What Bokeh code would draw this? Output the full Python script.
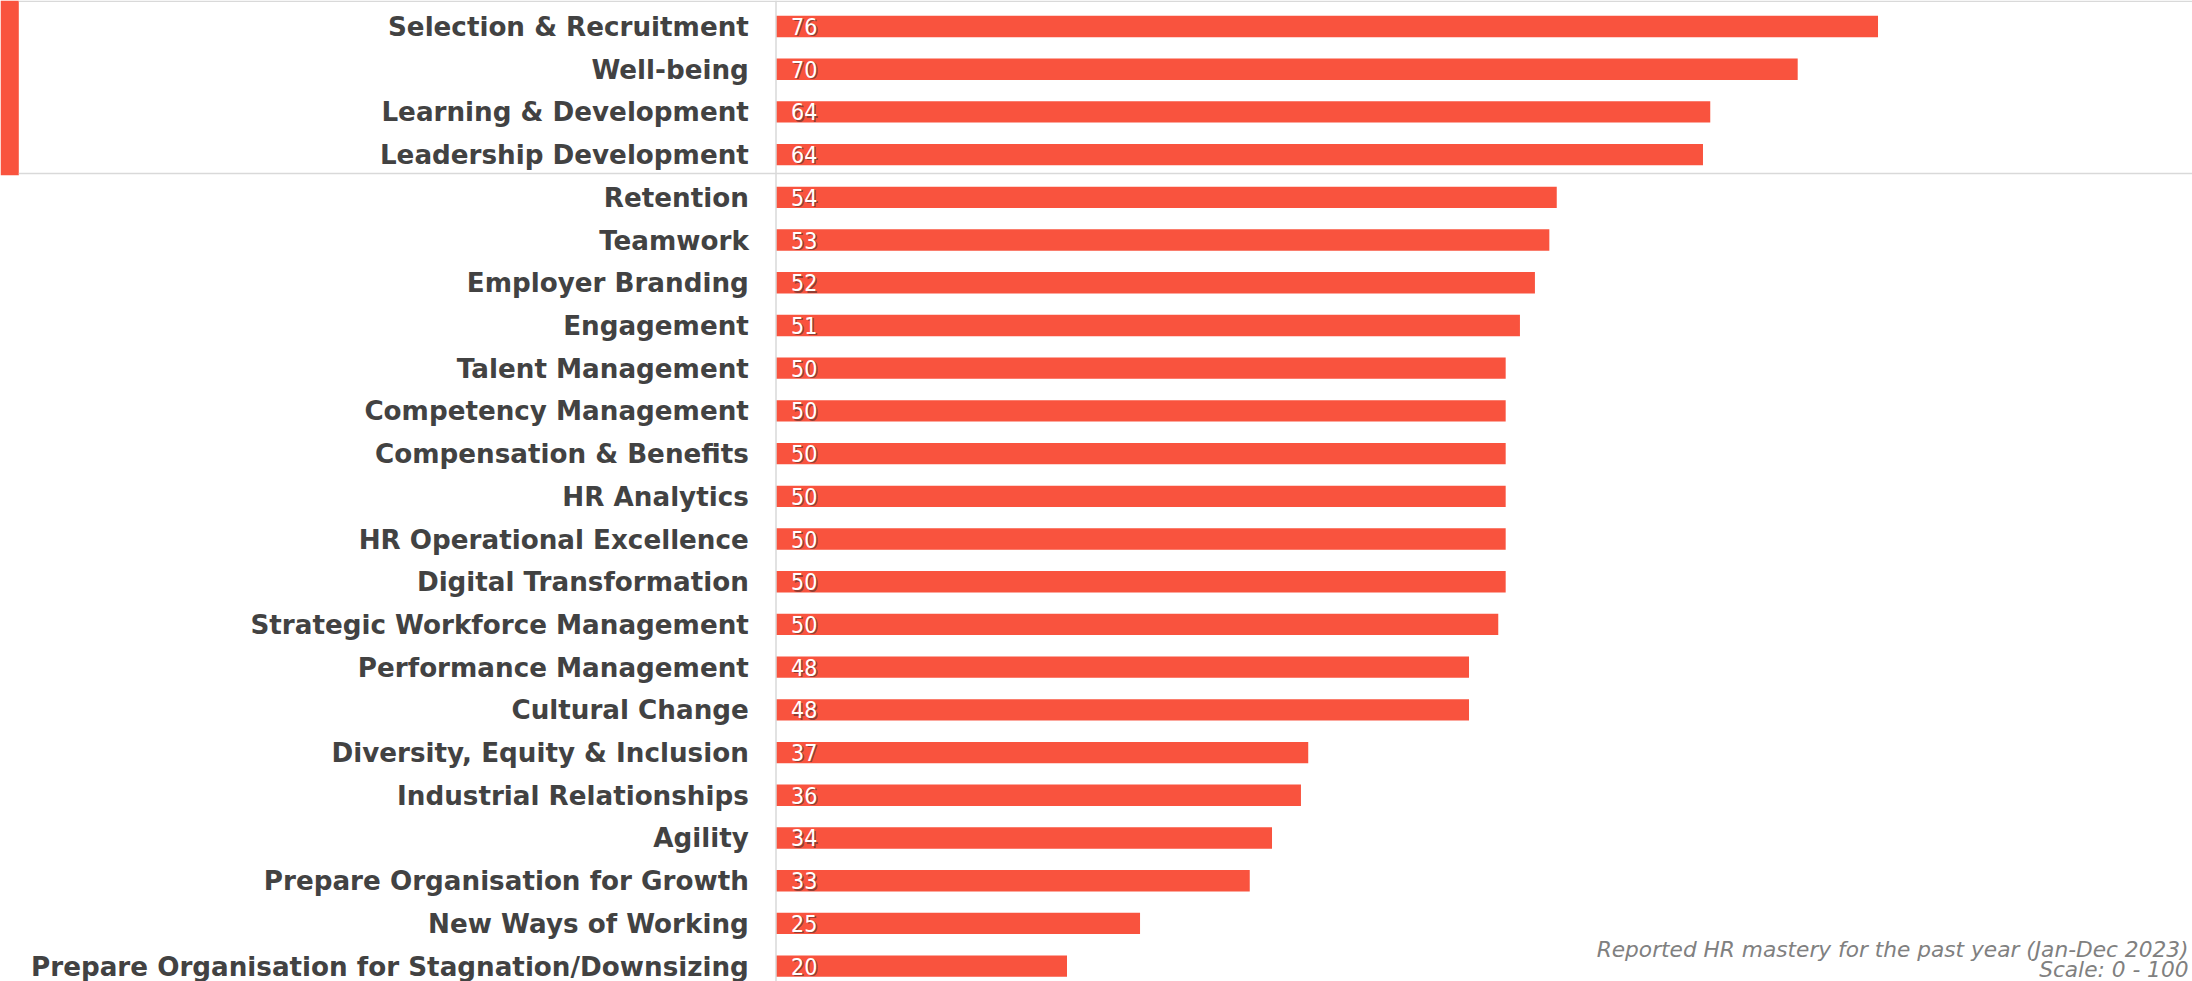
from bokeh.plotting import figure
from bokeh.models import Range1d, BoxAnnotation, Label, ColumnDataSource, Span
from bokeh.core.properties import value
from bokeh.embed import file_html
from bokeh.resources import INLINE

categories = [
    "Selection & Recruitment", "Well-being", "Learning & Development",
    "Leadership Development", "Retention", "Teamwork", "Employer Branding",
    "Engagement", "Talent Management", "Competency Management",
    "Compensation & Benefits", "HR Analytics", "HR Operational Excellence",
    "Digital Transformation", "Strategic Workforce Management",
    "Performance Management", "Cultural Change", "Diversity, Equity & Inclusion",
    "Industrial Relationships", "Agility", "Prepare Organisation for Growth",
    "New Ways of Working", "Prepare Organisation for Stagnation/Downsizing",
]
scores = [75.74, 70.22, 64.21, 63.71, 53.66, 53.15, 52.16, 51.13, 50.15, 50.15,
          50.15, 50.15, 50.15, 50.15, 49.64, 47.63, 47.63, 36.58, 36.08, 34.09,
          32.56, 25.02, 20.0]
score_labels = ["76", "70", "64", "64", "54", "53", "52", "51", "50", "50", "50",
                "50", "50", "50", "50", "48", "48", "37", "36", "34", "33", "25", "20"]
note_lines = ["Reported HR mastery for the past year (Jan-Dec 2023)", "Scale: 0 - 100"]

W, H = 2192, 981
BAR = "#F9533E"
GRID = "#d9d9d9"

# layout (pixels of the figure)
AXIS_X = 775.5       # where value 0 sits
PX_PER_UNIT = 14.55
ROW0 = 26.0          # centre of first row
ROW_STEP = 42.71     # distance between rows

rank = list(range(len(categories)))
src = ColumnDataSource(dict(cat=categories, rank=rank, score=scores, lab=score_labels))

p = figure(
    width=W, height=H, output_backend="svg", toolbar_location=None,
    x_range=Range1d(-AXIS_X / PX_PER_UNIT, (W - AXIS_X) / PX_PER_UNIT),
    y_range=Range1d((H - ROW0) / ROW_STEP, -ROW0 / ROW_STEP),
    min_border_left=0, min_border_right=0, min_border_top=0, min_border_bottom=0,
    x_axis_location=None, y_axis_location=None,
)
p.outline_line_color = None
p.grid.visible = False
p.background_fill_color = "white"

p.hbar(y="rank", left=0, right="score", height=0.5, source=src,
       fill_color=BAR, line_color=None)

# category labels (left of the axis line)
p.text(x=0, y="rank", text="cat", source=src, x_offset=-27.2, y_offset=0.5,
       text_align="right", text_baseline="middle",
       text_font=value("DejaVu Sans"), text_font_style="bold",
       text_font_size="26.2px", text_color="#424242")

# value labels with a soft shadow
p.text(x=0, y="rank", text="lab", source=src, x_offset=16.5, y_offset=1.3,
       text_font=value("DejaVu Sans Condensed"), text_font_size="23px",
       text_color="#3a2a28", text_alpha=0.55, text_baseline="middle")
p.text(x=0, y="rank", text="lab", source=src, x_offset=15, y_offset=0,
       text_font=value("DejaVu Sans Condensed"), text_font_size="23px",
       text_color="white", text_baseline="middle")

# vertical axis line
p.add_layout(Span(location=0, dimension="height", line_color=GRID, line_width=1.5))

# highlight box around the top four
def canvas_box(l, r, t, b, color):
    return BoxAnnotation(left=l, right=r, top=t, bottom=b,
                         left_units="canvas", right_units="canvas",
                         top_units="canvas", bottom_units="canvas",
                         fill_color=color, fill_alpha=1, line_color=None)

p.add_layout(canvas_box(0, 18.3, 0, 174.7, BAR))
p.add_layout(canvas_box(18.3, W, 0, 1.6, GRID))
p.add_layout(canvas_box(18.3, W, 172.2, 173.8, GRID))

for txt, yb in zip(note_lines, [948.5, 968.5]):
    p.add_layout(Label(x=2188, y=yb, x_units="canvas", y_units="canvas",
                       text=txt, text_align="right", text_baseline="alphabetic",
                       text_font="DejaVu Sans", text_font_style="italic",
                       text_font_size="21.7px", text_color="#808080"))

open("out.html", "w").write(file_html(p, INLINE))
